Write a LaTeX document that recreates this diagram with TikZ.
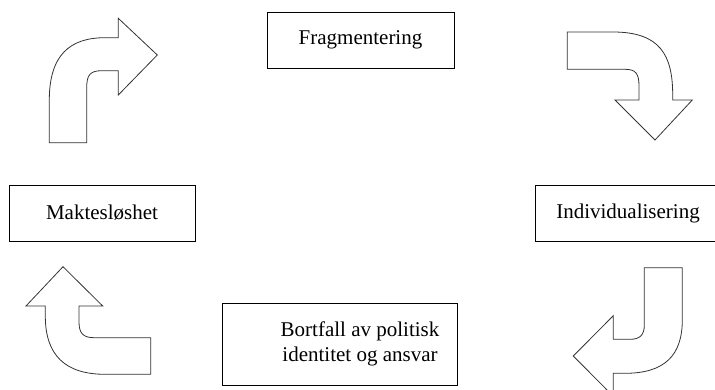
\documentclass[tikz,border=0pt]{standalone}
\usepackage{fontspec}
\setmainfont{Liberation Serif}
\begin{document}
\begin{tikzpicture}[x=1pt,y=-1pt,
  box/.style={draw=black, line width=0.9pt, fill=white, inner sep=0pt,
    font=\fontsize{21}{25}\selectfont},
  label/.style={inner sep=0pt, align=center, font=\fontsize{21}{25}\selectfont},
  bentarrow/.style={draw=black!80, line width=0.8pt, fill=white, line join=miter}]
  \useasboundingbox (0,0) rectangle (715,390);
  \clip (0,0) rectangle (715,390);

  % the four stages of the cycle
  \node[box, minimum width=187pt, minimum height=56pt] (frag) at (360.5,40) {Fragmentering};
  \node[box, minimum width=186pt, minimum height=56pt] (indiv) at (628,213) {Individualisering};
  \node[box, minimum width=235pt, minimum height=82pt] (bortfallbox) at (339.5,344) {};
  \node[label] (bortfall) at (360,344) {Bortfall av politisk\\identitet og ansvar};
  \node[box, minimum width=186pt, minimum height=56pt] (makt) at (102,213) {Maktesløshet};

  % block arrow: up, then right (top left)
  \draw[bentarrow] (49.3,142.7) -- (86.7,142.7) -- (86.7,88)
    .. controls (86.7,75) and (90,70.7) .. (102,70.7) -- (118.3,70.7)
    -- (118.3,95) -- (157.3,55) -- (118.3,18.3) -- (118.3,37.7) -- (105,37.7)
    .. controls (70,37.7) and (49.3,55) .. (49.3,100) -- cycle;

  % block arrow: right, then down (top right)
  \draw[bentarrow] (567.3,32) -- (567.3,69.3) -- (625,69.3)
    .. controls (636,69.3) and (639,74) .. (639,86) -- (639,100)
    -- (615,100) -- (655,140) -- (692.3,100) -- (672.7,100) -- (672.7,95)
    .. controls (672.7,55) and (660,32) .. (613,32) -- cycle;

  % block arrow: down, then left (bottom right)
  \draw[bentarrow] (644.3,267.7) -- (682.3,267.7) -- (682.3,320)
    .. controls (682.3,355) and (665,373.3) .. (625,373.3) -- (613.3,373.3)
    -- (613.3,396.3) -- (573.3,356) -- (613.3,315.7) -- (613.3,339.3) -- (630,339.3)
    .. controls (640,339.3) and (644.3,335) .. (644.3,325) -- cycle;

  % block arrow: left, then up (bottom left)
  \draw[bentarrow] (63,266.7) -- (102.7,306) -- (79,306) -- (79,322)
    .. controls (79,333) and (83,337.7) .. (94,337.7) -- (150.7,337.7)
    -- (150.7,374.3) -- (105,374.3)
    .. controls (65,374.3) and (45.3,355) .. (45.3,316) -- (45.3,306)
    -- (26,306) -- cycle;
\end{tikzpicture}
\end{document}
